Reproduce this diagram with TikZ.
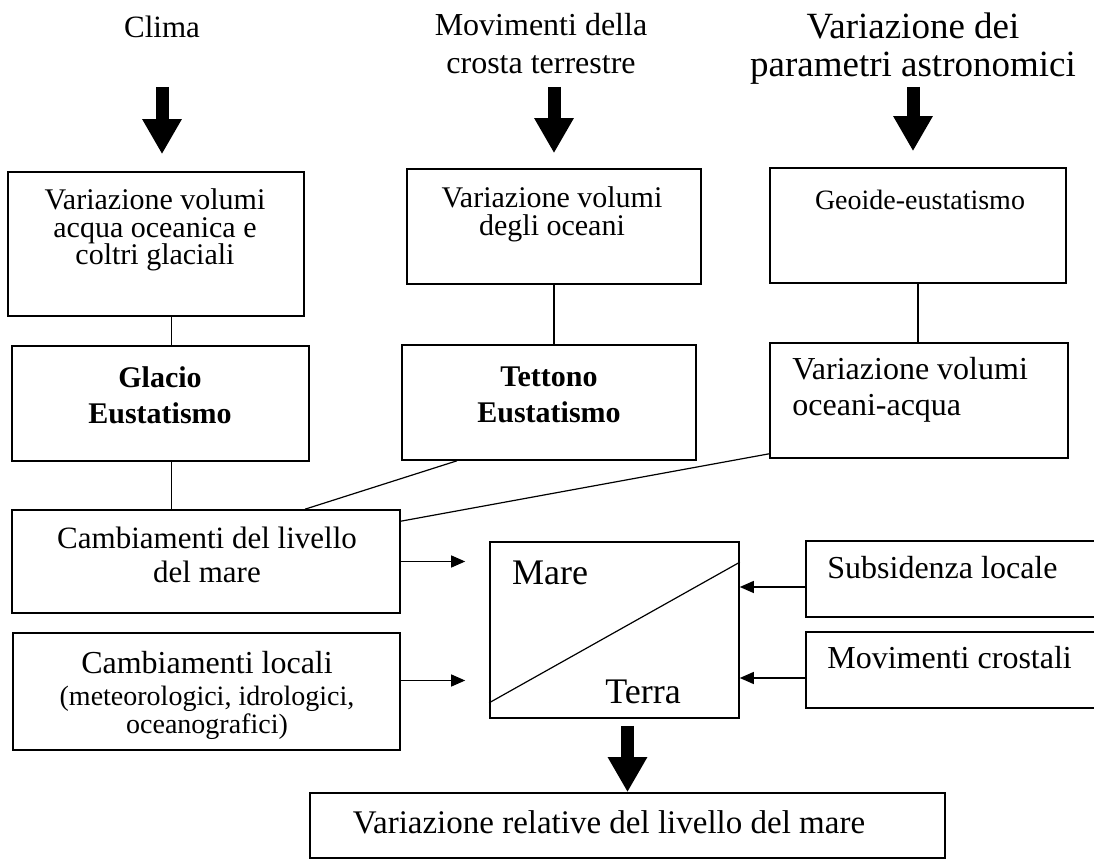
\documentclass[tikz,border=0pt]{standalone}
\usepackage{fontspec}
\setmainfont{Liberation Serif}
\usetikzlibrary{arrows.meta,positioning}
\newcommand{\fsz}[2]{\fontsize{#1}{#2}\selectfont}

\begin{document}
\begin{tikzpicture}[x=0.5pt,y=-0.5pt,
    box/.style={draw,line width=0.8pt,inner sep=0pt},
    lbl/.style={inner sep=0pt,align=center},
    fat/.style={line width=6.5pt,-{Triangle[width=18.5pt,length=17.5pt]}},
    link/.style={line width=0.6pt},
    arr/.style={line width=0.6pt,-{Triangle[width=6pt,length=7pt]}}]
    \useasboundingbox (0,0) rectangle (1094,860);
    % cause in alto
    \node[lbl,font=\fsz{15.5}{18}] (clima) at (162,27) {Clima};
    \node[lbl,font=\fsz{16}{19}] (crosta) at (541,44) {Movimenti della\\crosta terrestre};
    \node[lbl,font=\fsz{18.5}{19}] (astro) at (913,49) {Variazione dei\\parametri astronomici};
    \coordinate (arrtop) at (0,87);
    \coordinate (spine) at (171.5,0);
    % prima fila
    \node[box,minimum width=148pt,minimum height=72pt] (vol1) at (156,244) {};
    \node[box,minimum width=147pt,minimum height=57.5pt] (vol2) at (554,226.5) {};
    \node[box,minimum width=148pt,minimum height=57.5pt] (geo) at (918,225.5) {};
    \node[lbl,font=\fsz{15}{13.75}] (vol1t) at (155,230) {Variazione volumi\\acqua oceanica e\\coltri glaciali};
    \node[lbl,font=\fsz{15}{14}] (vol2t) at (552,214) {Variazione volumi\\degli oceani};
    \node[lbl,font=\fsz{14}{16}] (geot) at (920,200) {Geoide-eustatismo};
    % seconda fila
    \node[box,minimum width=148.5pt,minimum height=57.5pt] (glacio) at (160.5,403.5) {};
    \node[box,minimum width=147pt,minimum height=57.5pt] (tett) at (549,402.5) {};
    \node[box,minimum width=149pt,minimum height=57.5pt] (volo) at (919,400.5) {};
    \node[lbl,font=\fsz{15}{18}\bfseries] (glaciot) at (160,395) {Glacio\\Eustatismo};
    \node[lbl,font=\fsz{15}{18}\bfseries] (tettt) at (549,395) {Tettono\\Eustatismo};
    \node[lbl,align=left,anchor=west,font=\fsz{16}{18}] (volot) at (792,390) {Variazione volumi\\oceani-acqua};
    % livello del mare
    \node[box,minimum width=194pt,minimum height=51.5pt] (camb) at (206,561.5) {};
    \node[box,minimum width=193.5pt,minimum height=58.5pt] (loc) at (206.5,691.5) {};
    \node[box,minimum width=124.5pt,minimum height=88pt] (mare) at (614.5,630) {};
    \node[box,minimum width=147pt,minimum height=38pt] (sub) at (953,579) {};
    \node[box,minimum width=147pt,minimum height=38pt] (cros) at (953,670) {};
    \node[box,minimum width=317.5pt,minimum height=32.5pt] (rel) at (627.5,825.5) {};
    \node[lbl,font=\fsz{15.5}{17}] (cambt) at (207,555) {Cambiamenti del livello\\del mare};
    \node[lbl,font=\fsz{14}{14}] (loct) at (207,695) {{\fsz{16}{16}Cambiamenti locali}\\[2pt](meteorologici, idrologici,\\oceanografici)};
    \node[lbl,font=\fsz{18}{18}] (maret) at (550,573) {Mare};
    \node[lbl,font=\fsz{18}{18}] (terrat) at (643,692) {Terra};
    \node[lbl,anchor=west,font=\fsz{16}{16}] (subt) at (827,568) {Subsidenza locale};
    \node[lbl,anchor=west,font=\fsz{16}{16}] (crost) at (827,658) {Movimenti crostali};
    \node[lbl,font=\fsz{16.5}{16.5}] (relt) at (609,822) {Variazione relative del livello del mare};
    % frecce grosse
    \draw[fat,shorten >=8.5pt] (clima |- arrtop) -- (vol1.north -| clima);
    \draw[fat,shorten >=7.5pt] (vol2.north |- arrtop) -- (vol2.north);
    \draw[fat,shorten >=8pt] (astro |- arrtop) -- (geo.north -| astro);
    \draw[fat,shorten <=3.5pt] (mare.south -| rel.north) -- (rel.north);
    % collegamenti
    \draw[link] (vol1.south -| spine) -- (glacio.north -| spine);
    \draw[link] (glacio.south -| spine) -- (camb.north -| spine);
    \draw[link] (vol2.south) -- (tett.north -| vol2.south);
    \draw[link] (geo.south) -- (volo.north -| geo.south);
    \draw[link] ([xshift=-46pt]tett.south) -- ([xshift=49.5pt]camb.north);
    \draw[link] ([yshift=2.5pt]volo.south west) -- ([yshift=-6pt]camb.north east);
    \draw[link] ([yshift=8pt]mare.south west) -- ([yshift=-10.5pt]mare.north east);
    \draw[arr,shorten >=12pt] (camb.east) -- (camb.east -| mare.west);
    \draw[arr,shorten >=12pt] ([yshift=5.5pt]loc.east) -- ([yshift=5.5pt]loc.east -| mare.west);
    \draw[arr] ([yshift=-4pt]sub.west) -- ([yshift=-4pt]sub.west -| mare.east);
    \draw[arr] ([yshift=-4pt]cros.west) -- ([yshift=-4pt]cros.west -| mare.east);
\end{tikzpicture}
\end{document}
